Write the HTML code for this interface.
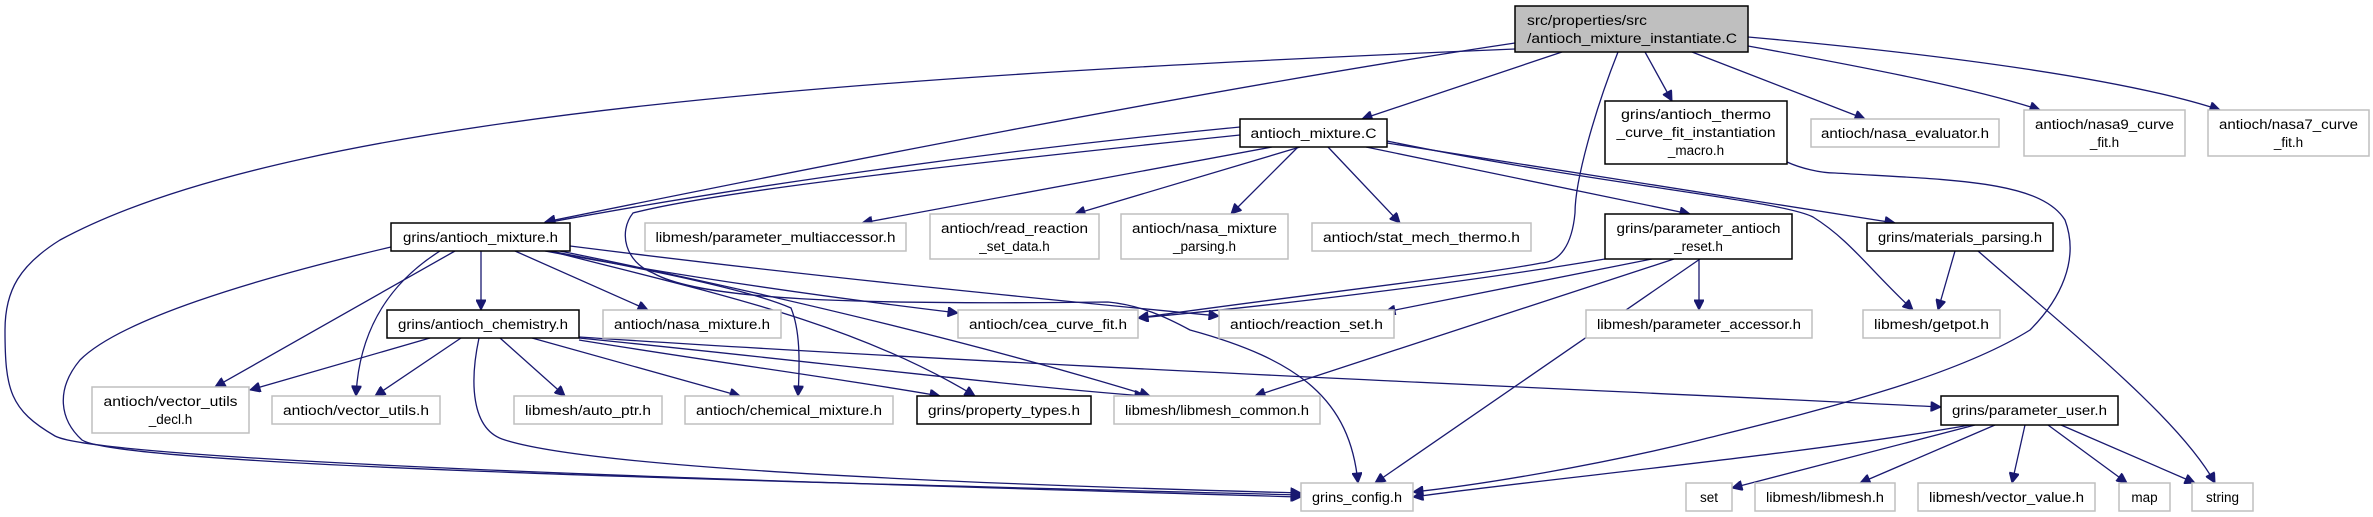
<!DOCTYPE html>
<html><head><meta charset="utf-8"><style>
html,body{margin:0;padding:0;background:#fff;}
svg{display:block;}
text{font-family:"Liberation Sans","DejaVu Sans",sans-serif;font-size:13.5px;fill:#000;}
.g{fill:#fff;stroke:#bfbfbf;stroke-width:1.5;}
.b{fill:#fff;stroke:#000;stroke-width:1.5;}
.e{fill:none;stroke:#191970;stroke-width:1.3;}
</style></head><body>
<svg width="2373" height="517" viewBox="0 0 2373 517" xmlns="http://www.w3.org/2000/svg">
<defs>
<marker id="a" viewBox="0 0 10 10" refX="10" refY="5" markerWidth="12" markerHeight="10" markerUnits="userSpaceOnUse" orient="auto">
<path d="M0,0 L10,5 L0,10 z" fill="#191970" stroke="#191970"/>
</marker>
</defs>
<g marker-end="url(#a)">
<!-- root edges -->
<path class="e" d="M1515,49 C900,75 300,110 60,240 C20,265 5,290 5,330 C5,390 10,410 55,436 C100,460 700,480 1301,497"/>
<path class="e" d="M1515,43 C1200,90 800,170 545,222"/>
<path class="e" d="M1562,52 L1362,119"/>
<path class="e" d="M1645,52 L1672,101"/>
<path class="e" d="M1692,52 L1865,119"/>
<path class="e" d="M1748,46 C1880,70 1980,90 2040,110"/>
<path class="e" d="M1748,37 C1950,55 2130,80 2220,110"/>
<path class="e" d="M1618,52 C1595,110 1575,180 1575,213 C1572,245 1560,262 1541,263 C1480,275 1300,295 1138,318"/>
<path class="e" d="M1787,162 C1800,168 1820,173 1835,173 C1950,180 2040,180 2065,220 C2080,260 2060,300 2030,330 C1950,380 1800,415 1700,440 C1600,465 1480,485 1413,492"/>
<!-- antioch_mixture.C edges -->
<path class="e" d="M1240,127 C1000,150 750,185 545,223"/>
<path class="e" d="M1272,147 L862,223"/>
<path class="e" d="M1300,147 L1075,214"/>
<path class="e" d="M1298,147 L1231,214"/>
<path class="e" d="M1328,147 L1400,223"/>
<path class="e" d="M1366,147 L1690,214"/>
<path class="e" d="M1387,143 L1895,223"/>
<path class="e" d="M1387,141 C1600,185 1780,200 1813,217 C1850,240 1870,270 1913,310"/>
<path class="e" d="M1240,135 C1000,160 720,190 633,213 C618,232 625,262 653,273 C700,300 850,305 1108,302 C1140,305 1166,317 1190,330 C1300,360 1350,400 1358,483"/>
<!-- antioch_mixture.h edges -->
<path class="e" d="M391,247 C250,280 120,320 80,360 C55,390 60,420 82,440 C120,465 700,480 1301,495"/>
<path class="e" d="M455,251 L215,387"/>
<path class="e" d="M440,251 C410,270 360,310 356,396"/>
<path class="e" d="M481,251 L481,310"/>
<path class="e" d="M515,251 L648,310"/>
<path class="e" d="M545,251 C700,280 850,300 958,313"/>
<path class="e" d="M570,246 C800,275 1000,295 1219,316"/>
<path class="e" d="M550,251 C650,270 750,290 791,308 C800,330 800,360 798,396"/>
<path class="e" d="M550,251 C700,290 850,320 975,396"/>
<path class="e" d="M560,251 C800,300 1000,350 1150,396"/>
<!-- antioch_chemistry.h edges -->
<path class="e" d="M430,338 L250,390"/>
<path class="e" d="M461,338 L375,396"/>
<path class="e" d="M500,338 L565,396"/>
<path class="e" d="M532,338 L740,396"/>
<path class="e" d="M479,338 C470,380 470,430 505,440 C600,470 1000,485 1301,493"/>
<path class="e" d="M579,340 C700,360 850,380 940,396"/>
<path class="e" d="M579,338 C800,360 1000,385 1145,396"/>
<path class="e" d="M579,337 C1000,365 1600,390 1941,407"/>
<!-- parameter_antioch_reset edges -->
<path class="e" d="M1605,259 C1450,285 1250,308 1138,318"/>
<path class="e" d="M1652,259 L1385,312"/>
<path class="e" d="M1674,259 L1255,396"/>
<path class="e" d="M1700,259 L1375,483"/>
<path class="e" d="M1699,259 L1699,310"/>
<!-- materials_parsing edges -->
<path class="e" d="M1955,251 L1938,310"/>
<path class="e" d="M1978,251 C2080,340 2180,420 2215,483"/>
<!-- parameter_user edges -->
<path class="e" d="M1970,425 C1800,455 1550,478 1413,497"/>
<path class="e" d="M1975,425 L1732,488"/>
<path class="e" d="M1995,425 L1860,483"/>
<path class="e" d="M2025,425 L2012,483"/>
<path class="e" d="M2048,425 L2127,483"/>
<path class="e" d="M2061,425 L2195,483"/>
</g>

<!-- nodes -->
<rect x="1515" y="6" width="233" height="46" fill="#bfbfbf" stroke="#000" stroke-width="1.5"/>
<text x="1527" y="25" textLength="120" lengthAdjust="spacingAndGlyphs">src/properties/src</text>
<text x="1527" y="43" textLength="210" lengthAdjust="spacingAndGlyphs">/antioch_mixture_instantiate.C</text>

<rect class="b" x="1240" y="119" width="147" height="28"/>
<text x="1313.5" y="138" text-anchor="middle" textLength="126" lengthAdjust="spacingAndGlyphs">antioch_mixture.C</text>

<rect class="b" x="1605" y="101" width="182" height="63"/>
<text x="1696" y="119" text-anchor="middle" textLength="150" lengthAdjust="spacingAndGlyphs">grins/antioch_thermo</text>
<text x="1696" y="137" text-anchor="middle" textLength="159" lengthAdjust="spacingAndGlyphs">_curve_fit_instantiation</text>
<text x="1696" y="155" text-anchor="middle">_macro.h</text>

<rect class="g" x="1811" y="119" width="188" height="28"/>
<text x="1905" y="138" text-anchor="middle" textLength="168" lengthAdjust="spacingAndGlyphs">antioch/nasa_evaluator.h</text>
<rect class="g" x="2024" y="110" width="161" height="46"/>
<text x="2104.5" y="129" text-anchor="middle" textLength="139" lengthAdjust="spacingAndGlyphs">antioch/nasa9_curve</text>
<text x="2104.5" y="147" text-anchor="middle">_fit.h</text>
<rect class="g" x="2208" y="110" width="161" height="46"/>
<text x="2288.5" y="129" text-anchor="middle" textLength="139" lengthAdjust="spacingAndGlyphs">antioch/nasa7_curve</text>
<text x="2288.5" y="147" text-anchor="middle">_fit.h</text>

<rect class="b" x="391" y="223" width="179" height="28"/>
<text x="480.5" y="242" text-anchor="middle" textLength="155" lengthAdjust="spacingAndGlyphs">grins/antioch_mixture.h</text>
<rect class="g" x="645" y="223" width="261" height="28"/>
<text x="775.5" y="242" text-anchor="middle" textLength="240" lengthAdjust="spacingAndGlyphs">libmesh/parameter_multiaccessor.h</text>
<rect class="g" x="930" y="214" width="169" height="45"/>
<text x="1014.5" y="233" text-anchor="middle" textLength="147" lengthAdjust="spacingAndGlyphs">antioch/read_reaction</text>
<text x="1014.5" y="251" text-anchor="middle">_set_data.h</text>
<rect class="g" x="1121" y="214" width="167" height="45"/>
<text x="1204.5" y="233" text-anchor="middle" textLength="145" lengthAdjust="spacingAndGlyphs">antioch/nasa_mixture</text>
<text x="1204.5" y="251" text-anchor="middle">_parsing.h</text>
<rect class="g" x="1312" y="223" width="219" height="28"/>
<text x="1421.5" y="242" text-anchor="middle" textLength="197" lengthAdjust="spacingAndGlyphs">antioch/stat_mech_thermo.h</text>
<rect class="b" x="1605" y="214" width="187" height="45"/>
<text x="1698.5" y="233" text-anchor="middle" textLength="164" lengthAdjust="spacingAndGlyphs">grins/parameter_antioch</text>
<text x="1698.5" y="251" text-anchor="middle">_reset.h</text>
<rect class="b" x="1867" y="223" width="186" height="28"/>
<text x="1960" y="242" text-anchor="middle" textLength="164" lengthAdjust="spacingAndGlyphs">grins/materials_parsing.h</text>

<rect class="b" x="387" y="310" width="192" height="28"/>
<text x="483" y="329" text-anchor="middle" textLength="170" lengthAdjust="spacingAndGlyphs">grins/antioch_chemistry.h</text>
<rect class="g" x="603" y="310" width="178" height="28"/>
<text x="692" y="329" text-anchor="middle" textLength="156" lengthAdjust="spacingAndGlyphs">antioch/nasa_mixture.h</text>
<rect class="g" x="958" y="310" width="180" height="28"/>
<text x="1048" y="329" text-anchor="middle" textLength="158" lengthAdjust="spacingAndGlyphs">antioch/cea_curve_fit.h</text>
<rect class="g" x="1219" y="310" width="175" height="28"/>
<text x="1306.5" y="329" text-anchor="middle" textLength="153" lengthAdjust="spacingAndGlyphs">antioch/reaction_set.h</text>
<rect class="g" x="1586" y="310" width="226" height="28"/>
<text x="1699" y="329" text-anchor="middle" textLength="204" lengthAdjust="spacingAndGlyphs">libmesh/parameter_accessor.h</text>
<rect class="g" x="1863" y="310" width="137" height="28"/>
<text x="1931.5" y="329" text-anchor="middle" textLength="115" lengthAdjust="spacingAndGlyphs">libmesh/getpot.h</text>

<rect class="g" x="92" y="387" width="157" height="46"/>
<text x="170.5" y="406" text-anchor="middle" textLength="134" lengthAdjust="spacingAndGlyphs">antioch/vector_utils</text>
<text x="170.5" y="424" text-anchor="middle">_decl.h</text>
<rect class="g" x="272" y="396" width="168" height="28"/>
<text x="356" y="415" text-anchor="middle" textLength="146" lengthAdjust="spacingAndGlyphs">antioch/vector_utils.h</text>
<rect class="g" x="514" y="396" width="148" height="28"/>
<text x="588" y="415" text-anchor="middle" textLength="126" lengthAdjust="spacingAndGlyphs">libmesh/auto_ptr.h</text>
<rect class="g" x="685" y="396" width="208" height="28"/>
<text x="789" y="415" text-anchor="middle" textLength="186" lengthAdjust="spacingAndGlyphs">antioch/chemical_mixture.h</text>
<rect class="b" x="917" y="396" width="174" height="28"/>
<text x="1004" y="415" text-anchor="middle" textLength="152" lengthAdjust="spacingAndGlyphs">grins/property_types.h</text>
<rect class="g" x="1114" y="396" width="206" height="28"/>
<text x="1217" y="415" text-anchor="middle" textLength="184" lengthAdjust="spacingAndGlyphs">libmesh/libmesh_common.h</text>
<rect class="b" x="1941" y="396" width="177" height="29"/>
<text x="2029.5" y="415" text-anchor="middle" textLength="155" lengthAdjust="spacingAndGlyphs">grins/parameter_user.h</text>

<rect class="g" x="1301" y="483" width="112" height="28"/>
<text x="1357" y="502" text-anchor="middle" textLength="90" lengthAdjust="spacingAndGlyphs">grins_config.h</text>
<rect class="g" x="1686" y="483" width="46" height="28"/>
<text x="1709" y="502" text-anchor="middle">set</text>
<rect class="g" x="1755" y="483" width="140" height="28"/>
<text x="1825" y="502" text-anchor="middle" textLength="118" lengthAdjust="spacingAndGlyphs">libmesh/libmesh.h</text>
<rect class="g" x="1918" y="483" width="177" height="28"/>
<text x="2006.5" y="502" text-anchor="middle" textLength="155" lengthAdjust="spacingAndGlyphs">libmesh/vector_value.h</text>
<rect class="g" x="2119" y="483" width="51" height="28"/>
<text x="2144.5" y="502" text-anchor="middle">map</text>
<rect class="g" x="2192" y="483" width="61" height="28"/>
<text x="2222.5" y="502" text-anchor="middle">string</text>
</svg>
</body></html>
